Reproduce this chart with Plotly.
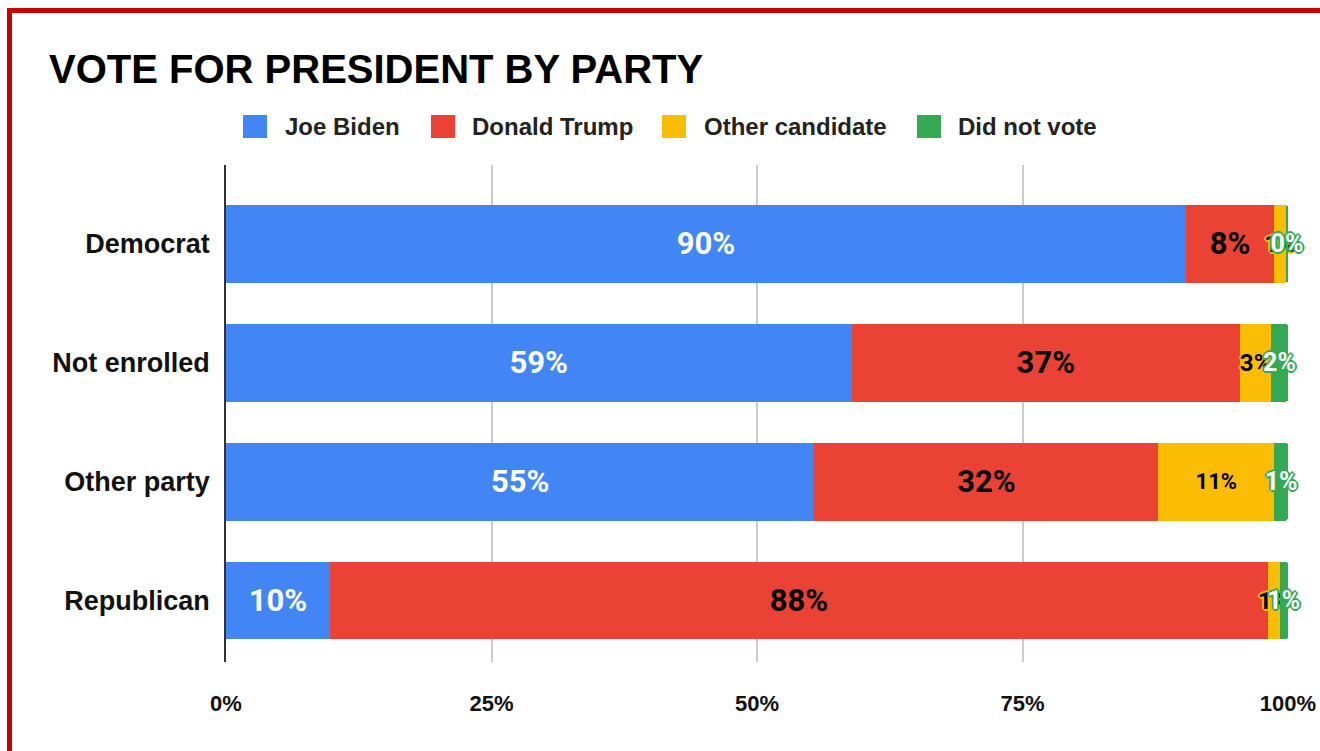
import plotly.graph_objects as go

# Survey results: share of each party group by 2020 presidential vote (%)
parties = ["Democrat", "Not enrolled", "Other party", "Republican"]
biden = [90.4, 58.9, 55.4, 9.8]
trump = [8.3, 36.6, 32.4, 88.3]
other = [1.1, 2.9, 10.9, 1.1]
did_not_vote = [0.2, 1.6, 1.3, 0.8]

series_names = ["Joe Biden", "Donald Trump", "Other candidate", "Did not vote"]
x_ticks = [0, 25, 50, 75, 100]
x_tick_labels = ["0%", "25%", "50%", "75%", "100%"]

colors = ["#4285f4", "#ea4335", "#fbbc04", "#34a853"]
label_colors = ["#ffffff", "#000000", "#000000", "#ffffff"]
label_sizes = [31, 31, [24, 24, 22, 24], 25]

W, H = 1320, 751
L, R, T, B = 226, 32, 165, 89
PW, PH = W - L - R, H - T - B


def px(x):
    return (x - L) / PW


def py(y):
    return (H - B - y) / PH


def halo(c):
    return ", ".join(f"{dx}px {dy}px 0 {c}" for dx, dy in
                     [(-2, 0), (2, 0), (0, -2), (0, 2), (-1, -1), (1, -1), (-1, 1), (1, 1)])


fig = go.Figure()
for name, vals, col, lcol, lsize in zip(series_names, [biden, trump, other, did_not_vote],
                                         colors, label_colors, label_sizes):
    shadow = halo(col) if name in ("Other candidate", "Did not vote") else "none"
    fig.add_trace(go.Bar(
        y=parties, x=vals, name=name, orientation="h",
        marker=dict(color=col, line=dict(width=0)),
        texttemplate="%{x:.0f}%", textposition="inside", insidetextanchor="middle",
        constraintext="none", textangle=0, cliponaxis=False,
        textfont=dict(family="Roboto", size=lsize, color=lcol, weight="bold", shadow=shadow),
        hoverinfo="skip", showlegend=False,
    ))

shapes = []
annotations = []

# Legend keys
legend_swatch_x = [243, 431, 662, 917]
legend_text_x = [283, 470, 702, 956]
for name, col, sx, tx in zip(series_names, colors, legend_swatch_x, legend_text_x):
    shapes.append(dict(type="rect", xref="paper", yref="paper",
                       x0=px(sx), x1=px(sx + 24), y0=py(138), y1=py(115),
                       fillcolor=col, line=dict(width=0), layer="above"))
    annotations.append(dict(text=name, xref="paper", yref="paper", x=px(tx), y=py(126),
                            xanchor="left", yanchor="middle", showarrow=False,
                            font=dict(family="Liberation Sans", size=24, color="#222222",
                                      weight="bold")))

# Title
annotations.append(dict(text="VOTE FOR PRESIDENT BY PARTY", xref="paper", yref="paper",
                        x=px(47), y=py(69), xanchor="left", yanchor="middle", showarrow=False,
                        font=dict(family="Liberation Sans", size=40, color="#000000",
                                  weight="bold")))

# Red frame around the figure
shapes.append(dict(type="rect", xref="paper", yref="paper",
                   x0=px(9.5), x1=px(1340), y0=py(10.5), y1=py(770),
                   line=dict(color="#cc0000", width=5), fillcolor="rgba(0,0,0,0)",
                   layer="above"))

fig.update_layout(
    width=W, height=H,
    margin=dict(l=L, r=R, t=T, b=B, pad=0, autoexpand=False),
    barmode="stack", bargap=0.345, barcornerradius=3,
    paper_bgcolor="white", plot_bgcolor="white",
    shapes=shapes, annotations=annotations,
    xaxis=dict(range=[0, 100], tickvals=x_ticks, ticktext=x_tick_labels,
               showgrid=True, gridcolor="#cccccc", gridwidth=1.5, zeroline=False,
               showline=False, ticks="", ticklabelstandoff=26, automargin=False,
               tickfont=dict(family="Liberation Sans", size=22, color="#111111",
                             weight="bold")),
    yaxis=dict(categoryorder="array", categoryarray=parties,
               range=[3.517, -0.664], showgrid=False, zeroline=False,
               showline=True, linecolor="#333333", linewidth=1.5, ticks="",
               ticklabelstandoff=9, automargin=False,
               tickfont=dict(family="Liberation Sans", size=27, color="#111111",
                             weight="bold")),
)

fig.write_html("out.html")
